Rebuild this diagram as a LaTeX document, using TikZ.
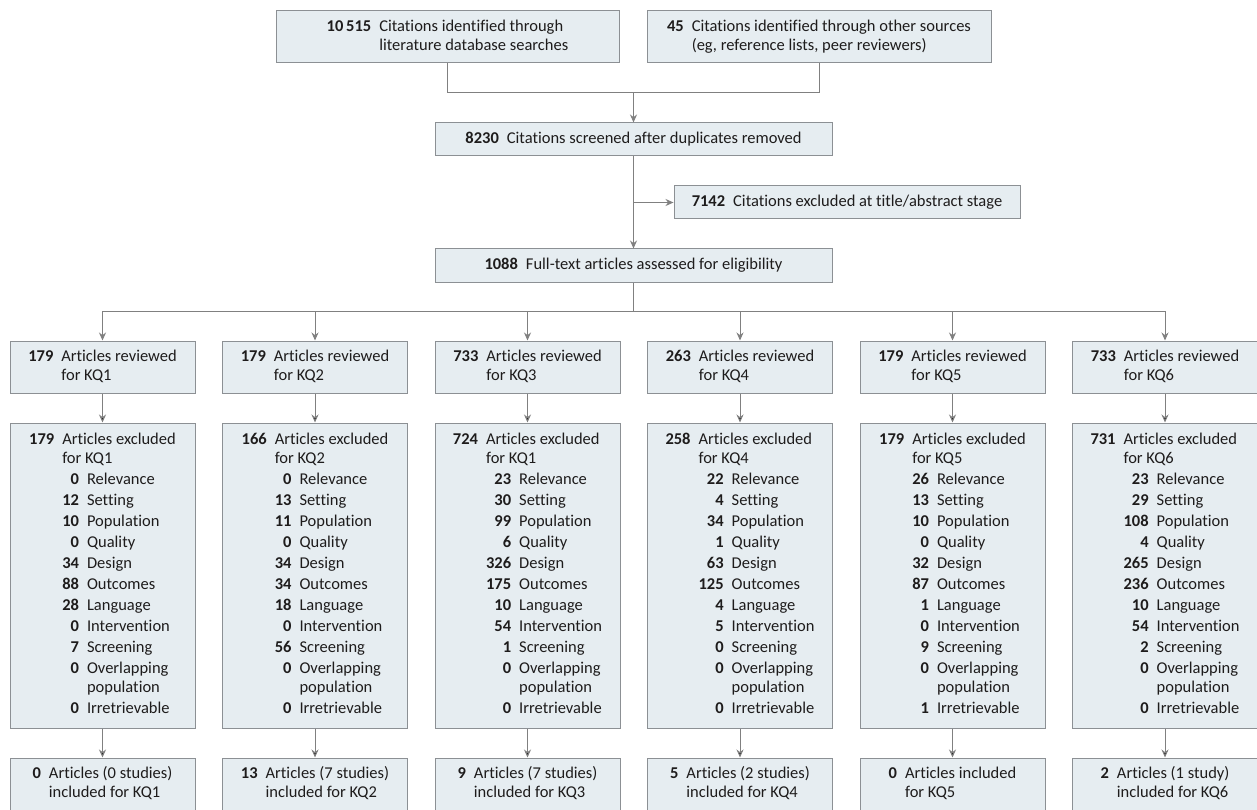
\documentclass[tikz,border=0pt]{standalone}
\usepackage{fontspec}
\setmainfont{Carlito}[Ligatures=NoCommon]
\usetikzlibrary{arrows.meta}
\definecolor{boxfill}{RGB}{230,237,241}
\definecolor{boxline}{RGB}{140,144,148}
\definecolor{arrowline}{RGB}{128,128,128}
\definecolor{inktext}{RGB}{30,28,28}
\newcommand{\twoline}[3]{\begin{tabular}{@{}r@{\hspace{8pt}}l@{}}\textbf{#1} & #2\\ & #3\end{tabular}}
\newcommand{\reason}[2]{\textbf{#1} & #2\\[2pt]}

\begin{document}
\begin{tikzpicture}[x=1pt,y=-1pt,
  flowbox/.style={draw=boxline,fill=boxfill,line width=1pt,inner sep=0pt,align=center,text=inktext,
    font=\fontsize{16.5}{19}\selectfont},
  flowarrow/.style={draw=arrowline,line width=1pt,-{Stealth[length=8pt,width=7pt]}},
  flowline/.style={draw=arrowline,line width=1pt}]
\clip (0,0) rectangle (1257,810);
\fill[white] (0,0) rectangle (1257,810);

\node[flowbox,minimum width=343pt,minimum height=52pt] (src1) at (447.5,37) {\twoline{10\,515}{Citations identified through}{literature database searches}};
\node[flowbox,minimum width=344pt,minimum height=52pt] (src2) at (819,37) {\twoline{45}{Citations identified through other sources}{(eg, reference lists, peer reviewers)}};
\node[flowbox,minimum width=397pt,minimum height=33pt] (screened) at (633.5,139.5) {\textbf{8230}\hspace{8pt}Citations screened after duplicates removed};
\node[flowbox,minimum width=346pt,minimum height=33pt] (titleex) at (847,202.5) {\textbf{7142}\hspace{8pt}Citations excluded at title/abstract stage};
\node[flowbox,minimum width=397pt,minimum height=33pt] (fulltext) at (633.5,265.5) {\textbf{1088}\hspace{8pt}Full-text articles assessed for eligibility};

\coordinate (join) at (633.5,93);
\coordinate (fork) at (633.5,202.5);
\coordinate (bar) at (633.5,311);

\node[flowbox,minimum width=185pt,minimum height=52pt] (rev1) at (102.5,367) {\twoline{179}{Articles reviewed}{for KQ1}};
\node[flowbox,minimum width=185pt,minimum height=52pt] (rev2) at (315,367) {\twoline{179}{Articles reviewed}{for KQ2}};
\node[flowbox,minimum width=185pt,minimum height=52pt] (rev3) at (527.5,367) {\twoline{733}{Articles reviewed}{for KQ3}};
\node[flowbox,minimum width=185pt,minimum height=52pt] (rev4) at (740,367) {\twoline{263}{Articles reviewed}{for KQ4}};
\node[flowbox,minimum width=185pt,minimum height=52pt] (rev5) at (952.5,367) {\twoline{179}{Articles reviewed}{for KQ5}};
\node[flowbox,minimum width=185pt,minimum height=52pt] (rev6) at (1165,367) {\twoline{733}{Articles reviewed}{for KQ6}};

\node[flowbox,minimum width=185pt,minimum height=305pt] (exc1) at (102.5,575.5) {\begin{tabular}{@{}r@{\hspace{8pt}}l@{}}
\textbf{179} & Articles excluded\\
 & for KQ1\\[2pt]
 & \begin{tabular}[t]{@{}r@{\hspace{8pt}}l@{}}
 \reason{0}{Relevance}\reason{12}{Setting}\reason{10}{Population}\reason{0}{Quality}\reason{34}{Design}
 \reason{88}{Outcomes}\reason{28}{Language}\reason{0}{Intervention}\reason{7}{Screening}
 \textbf{0} & Overlapping\\ & population\\[2pt]
 \textbf{0} & Irretrievable
 \end{tabular}
\end{tabular}};
\node[flowbox,minimum width=185pt,minimum height=305pt] (exc2) at (315,575.5) {\begin{tabular}{@{}r@{\hspace{8pt}}l@{}}
\textbf{166} & Articles excluded\\
 & for KQ2\\[2pt]
 & \begin{tabular}[t]{@{}r@{\hspace{8pt}}l@{}}
 \reason{0}{Relevance}\reason{13}{Setting}\reason{11}{Population}\reason{0}{Quality}\reason{34}{Design}
 \reason{34}{Outcomes}\reason{18}{Language}\reason{0}{Intervention}\reason{56}{Screening}
 \textbf{0} & Overlapping\\ & population\\[2pt]
 \textbf{0} & Irretrievable
 \end{tabular}
\end{tabular}};
\node[flowbox,minimum width=185pt,minimum height=305pt] (exc3) at (527.5,575.5) {\begin{tabular}{@{}r@{\hspace{8pt}}l@{}}
\textbf{724} & Articles excluded\\
 & for KQ1\\[2pt]
 & \begin{tabular}[t]{@{}r@{\hspace{8pt}}l@{}}
 \reason{23}{Relevance}\reason{30}{Setting}\reason{99}{Population}\reason{6}{Quality}\reason{326}{Design}
 \reason{175}{Outcomes}\reason{10}{Language}\reason{54}{Intervention}\reason{1}{Screening}
 \textbf{0} & Overlapping\\ & population\\[2pt]
 \textbf{0} & Irretrievable
 \end{tabular}
\end{tabular}};
\node[flowbox,minimum width=185pt,minimum height=305pt] (exc4) at (740,575.5) {\begin{tabular}{@{}r@{\hspace{8pt}}l@{}}
\textbf{258} & Articles excluded\\
 & for KQ4\\[2pt]
 & \begin{tabular}[t]{@{}r@{\hspace{8pt}}l@{}}
 \reason{22}{Relevance}\reason{4}{Setting}\reason{34}{Population}\reason{1}{Quality}\reason{63}{Design}
 \reason{125}{Outcomes}\reason{4}{Language}\reason{5}{Intervention}\reason{0}{Screening}
 \textbf{0} & Overlapping\\ & population\\[2pt]
 \textbf{0} & Irretrievable
 \end{tabular}
\end{tabular}};
\node[flowbox,minimum width=185pt,minimum height=305pt] (exc5) at (952.5,575.5) {\begin{tabular}{@{}r@{\hspace{8pt}}l@{}}
\textbf{179} & Articles excluded\\
 & for KQ5\\[2pt]
 & \begin{tabular}[t]{@{}r@{\hspace{8pt}}l@{}}
 \reason{26}{Relevance}\reason{13}{Setting}\reason{10}{Population}\reason{0}{Quality}\reason{32}{Design}
 \reason{87}{Outcomes}\reason{1}{Language}\reason{0}{Intervention}\reason{9}{Screening}
 \textbf{0} & Overlapping\\ & population\\[2pt]
 \textbf{1} & Irretrievable
 \end{tabular}
\end{tabular}};
\node[flowbox,minimum width=185pt,minimum height=305pt] (exc6) at (1165,575.5) {\begin{tabular}{@{}r@{\hspace{8pt}}l@{}}
\textbf{731} & Articles excluded\\
 & for KQ6\\[2pt]
 & \begin{tabular}[t]{@{}r@{\hspace{8pt}}l@{}}
 \reason{23}{Relevance}\reason{29}{Setting}\reason{108}{Population}\reason{4}{Quality}\reason{265}{Design}
 \reason{236}{Outcomes}\reason{10}{Language}\reason{54}{Intervention}\reason{2}{Screening}
 \textbf{0} & Overlapping\\ & population\\[2pt]
 \textbf{0} & Irretrievable
 \end{tabular}
\end{tabular}};

\node[flowbox,minimum width=185pt,minimum height=53pt] (inc1) at (102.5,784.5) {\twoline{0}{Articles (0 studies)}{included for KQ1}};
\node[flowbox,minimum width=185pt,minimum height=53pt] (inc2) at (315,784.5) {\twoline{13}{Articles (7 studies)}{included for KQ2}};
\node[flowbox,minimum width=185pt,minimum height=53pt] (inc3) at (527.5,784.5) {\twoline{9}{Articles (7 studies)}{included for KQ3}};
\node[flowbox,minimum width=185pt,minimum height=53pt] (inc4) at (740,784.5) {\twoline{5}{Articles (2 studies)}{included for KQ4}};
\node[flowbox,minimum width=185pt,minimum height=53pt] (inc5) at (952.5,784.5) {\twoline{0}{Articles included}{for KQ5}};
\node[flowbox,minimum width=185pt,minimum height=53pt] (inc6) at (1165,784.5) {\twoline{2}{Articles (1 study)}{included for KQ6}};

\path[flowline] (src1.south) |- (join);
\path[flowline] (src2.south) |- (join);
\path[flowarrow] (join) -- (screened.north);
\path[flowarrow] (screened.south) -- (fulltext.north);
\path[flowarrow] (fork) -- (titleex.west);
\path[flowline] (fulltext.south) -- (bar);
\path[flowarrow] (bar) -| (rev1.north);
\path[flowarrow] (bar) -| (rev2.north);
\path[flowarrow] (bar) -| (rev3.north);
\path[flowarrow] (bar) -| (rev4.north);
\path[flowarrow] (bar) -| (rev5.north);
\path[flowarrow] (bar) -| (rev6.north);
\path[flowarrow] (rev1) edge (exc1) (exc1) edge (inc1);
\path[flowarrow] (rev2) edge (exc2) (exc2) edge (inc2);
\path[flowarrow] (rev3) edge (exc3) (exc3) edge (inc3);
\path[flowarrow] (rev4) edge (exc4) (exc4) edge (inc4);
\path[flowarrow] (rev5) edge (exc5) (exc5) edge (inc5);
\path[flowarrow] (rev6) edge (exc6) (exc6) edge (inc6);
\end{tikzpicture}
\end{document}
